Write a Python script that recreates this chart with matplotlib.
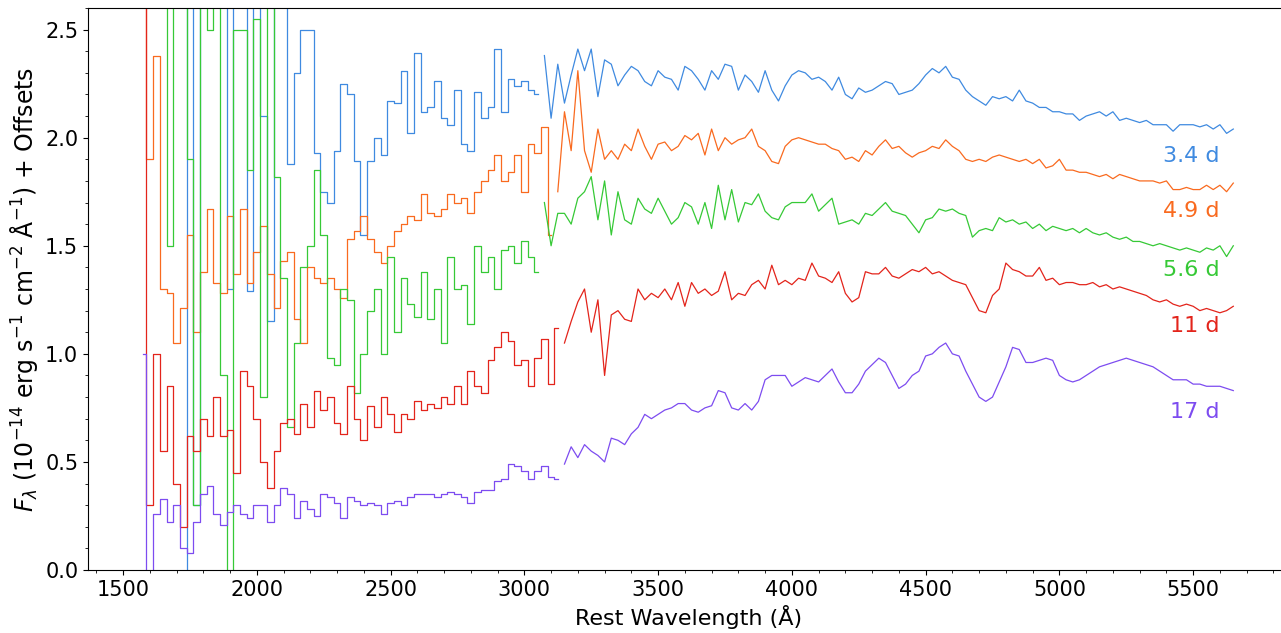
import numpy as np
import matplotlib
matplotlib.use("Agg")
import matplotlib.pyplot as plt
from matplotlib.ticker import MultipleLocator

nan = np.nan

# rest wavelength grid (Angstrom), 25 A steps from 1575 to 5650
wave = np.arange(1575, 5651, 25)

# fluxes + offsets, 8 values per row (200 A per row)
flux_34 = [
    nan, nan, nan, nan, nan, nan, -0.1, 3.0,
    0.3, 3.0, 3.0, 3.0, 3.0, 1.3, 3.0, 3.0,
    1.29, 3.0, 2.1, 1.15, 3.0, 3.0, 1.88, 2.3,
    2.5, 2.5, 1.93, 1.75, 1.7, 1.94, 2.25, 2.2,
    1.89, 1.55, 1.89, 2.0, 1.92, 2.17, 2.16, 2.31,
    2.02, 2.39, 2.12, 2.14, 2.26, 2.09, 2.06, 2.22,
    1.97, 1.94, 2.21, 2.09, 2.14, 2.41, 2.12, 2.27,
    2.24, 2.26, 2.22, 2.2, 2.38, 2.09, 2.34, 2.16,
    2.29, 2.41, 2.31, 2.41, 2.19, 2.36, 2.34, 2.24,
    2.29, 2.33, 2.31, 2.26, 2.24, 2.31, 2.28, 2.27,
    2.22, 2.33, 2.31, 2.27, 2.22, 2.31, 2.27, 2.34,
    2.33, 2.22, 2.29, 2.26, 2.21, 2.31, 2.22, 2.17,
    2.24, 2.29, 2.31, 2.3, 2.27, 2.28, 2.26, 2.22,
    2.28, 2.2, 2.18, 2.23, 2.21, 2.22, 2.24, 2.26,
    2.25, 2.2, 2.21, 2.22, 2.25, 2.29, 2.32, 2.3,
    2.33, 2.28, 2.27, 2.22, 2.19, 2.17, 2.15, 2.19,
    2.18, 2.19, 2.17, 2.22, 2.17, 2.16, 2.14, 2.14,
    2.12, 2.12, 2.11, 2.11, 2.08, 2.1, 2.11, 2.12,
    2.1, 2.12, 2.08, 2.09, 2.08, 2.07, 2.08, 2.06,
    2.06, 2.06, 2.03, 2.06, 2.06, 2.06, 2.05, 2.06,
    2.04, 2.06, 2.02, 2.04,
]

flux_49 = [
    2.8, 1.9, 2.38, 1.3, 1.28, 1.05, 1.21, 1.55,
    1.1, 1.38, 1.67, 1.33, 1.28, 1.64, 1.37, 1.67,
    1.33, 1.47, 1.59, 1.37, 1.21, 1.43, 1.47, 1.16,
    1.05, 1.4, 1.35, 1.33, 1.35, 1.3, 1.26, 1.53,
    1.57, 1.64, 1.53, 1.47, 1.42, 1.5, 1.57, 1.6,
    1.64, 1.62, 1.74, 1.65, 1.64, 1.67, 1.74, 1.7,
    1.72, 1.65, 1.75, 1.8, 1.85, 1.92, 1.8, 1.84,
    1.92, 1.75, 1.97, 1.93, 2.05, 1.55, 1.75, 2.12,
    1.94, 2.31, 1.94, 1.84, 2.04, 1.9, 1.94, 1.9,
    1.97, 1.94, 2.04, 1.96, 1.9, 1.97, 1.98, 1.94,
    1.96, 2.01, 1.99, 2.02, 1.92, 2.04, 1.94, 2.0,
    1.97, 1.99, 2.0, 2.04, 1.96, 1.94, 1.89, 1.88,
    1.96, 1.99, 2.0, 1.99, 1.98, 1.97, 1.97, 1.95,
    1.94, 1.9, 1.91, 1.89, 1.94, 1.92, 1.96, 1.99,
    1.95, 1.96, 1.93, 1.91, 1.93, 1.94, 1.96, 1.95,
    1.99, 1.96, 1.94, 1.9, 1.89, 1.9, 1.89, 1.91,
    1.92, 1.91, 1.9, 1.89, 1.9, 1.88, 1.9, 1.86,
    1.87, 1.9, 1.85, 1.85, 1.84, 1.84, 1.83, 1.82,
    1.83, 1.81, 1.83, 1.82, 1.81, 1.8, 1.8, 1.8,
    1.79, 1.8, 1.76, 1.76, 1.77, 1.76, 1.76, 1.78,
    1.76, 1.78, 1.75, 1.79,
]

flux_56 = [
    nan, nan, nan, 3.0, 1.5, 3.0, 3.0, 1.9,
    0.3, 3.0, 2.5, 3.0, 0.9, -0.2, 2.5, 2.5,
    1.85, 2.55, 0.8, 3.0, 1.82, 1.35, 0.66, 1.05,
    1.4, 1.5, 1.85, 1.55, 0.98, 0.95, 1.3, 1.25,
    0.82, 1.0, 1.2, 1.3, 1.0, 1.45, 1.1, 1.35,
    1.23, 1.17, 1.38, 1.16, 1.3, 1.05, 1.45, 1.3,
    1.32, 1.14, 1.5, 1.38, 1.45, 1.3, 1.48, 1.5,
    1.42, 1.52, 1.45, 1.38, 1.7, 1.5, 1.65, 1.65,
    1.6, 1.72, 1.75, 1.82, 1.62, 1.8, 1.55, 1.75,
    1.62, 1.6, 1.72, 1.67, 1.65, 1.72, 1.66, 1.6,
    1.63, 1.7, 1.68, 1.6, 1.7, 1.58, 1.78, 1.62,
    1.76, 1.61, 1.7, 1.69, 1.74, 1.66, 1.63, 1.62,
    1.68, 1.7, 1.7, 1.7, 1.74, 1.66, 1.69, 1.72,
    1.6, 1.61, 1.62, 1.6, 1.65, 1.64, 1.67, 1.7,
    1.66, 1.65, 1.64, 1.6, 1.56, 1.62, 1.63, 1.67,
    1.66, 1.67, 1.65, 1.64, 1.54, 1.57, 1.58, 1.57,
    1.63, 1.61, 1.62, 1.6, 1.61, 1.58, 1.6, 1.57,
    1.59, 1.58, 1.57, 1.58, 1.56, 1.58, 1.56, 1.55,
    1.56, 1.54, 1.53, 1.54, 1.52, 1.52, 1.51, 1.5,
    1.51, 1.5, 1.49, 1.48, 1.49, 1.48, 1.47, 1.49,
    1.48, 1.5, 1.45, 1.5,
]

flux_11 = [
    2.8, 0.3, 1.0, 0.55, 0.85, 0.4, 0.2, 0.62,
    0.55, 0.7, 0.62, 0.8, 0.62, 0.65, 0.45, 0.92,
    0.85, 0.7, 0.5, 0.38, 0.55, 0.68, 0.7, 0.63,
    0.77, 0.66, 0.83, 0.74, 0.8, 0.68, 0.63, 0.85,
    0.7, 0.6, 0.76, 0.66, 0.8, 0.72, 0.64, 0.72,
    0.7, 0.78, 0.74, 0.77, 0.75, 0.8, 0.77, 0.85,
    0.77, 0.92, 0.85, 0.82, 0.97, 1.03, 1.1, 1.06,
    0.95, 0.97, 0.85, 0.98, 1.07, 0.86, 1.12, 1.05,
    1.15, 1.24, 1.3, 1.1, 1.25, 0.9, 1.18, 1.2,
    1.16, 1.15, 1.3, 1.25, 1.28, 1.26, 1.3, 1.25,
    1.33, 1.22, 1.33, 1.28, 1.3, 1.27, 1.29, 1.38,
    1.25, 1.28, 1.27, 1.32, 1.34, 1.3, 1.41, 1.32,
    1.34, 1.32, 1.35, 1.34, 1.42, 1.36, 1.35, 1.33,
    1.38, 1.28, 1.24, 1.26, 1.38, 1.37, 1.37, 1.4,
    1.36, 1.35, 1.37, 1.39, 1.38, 1.4, 1.37, 1.38,
    1.36, 1.34, 1.33, 1.32, 1.26, 1.2, 1.19, 1.27,
    1.3, 1.42, 1.39, 1.38, 1.36, 1.36, 1.4, 1.34,
    1.35, 1.32, 1.33, 1.33, 1.32, 1.32, 1.33, 1.31,
    1.32, 1.3, 1.31, 1.3, 1.29, 1.28, 1.27, 1.25,
    1.24, 1.25, 1.23, 1.22, 1.23, 1.22, 1.2, 1.21,
    1.2, 1.19, 1.2, 1.22,
]

flux_17 = [
    1.0, -0.1, 0.26, 0.33, 0.22, 0.3, 0.1, 0.08,
    0.22, 0.35, 0.39, 0.26, 0.21, 0.27, 0.3, 0.26,
    0.24, 0.3, 0.3, 0.22, 0.3, 0.38, 0.35, 0.24,
    0.32, 0.28, 0.25, 0.35, 0.34, 0.31, 0.24, 0.34,
    0.32, 0.3, 0.31, 0.3, 0.26, 0.31, 0.32, 0.3,
    0.34, 0.35, 0.35, 0.35, 0.34, 0.35, 0.36, 0.35,
    0.34, 0.31, 0.36, 0.37, 0.37, 0.41, 0.42, 0.49,
    0.48, 0.46, 0.42, 0.46, 0.48, 0.43, 0.42, 0.49,
    0.57, 0.52, 0.58, 0.55, 0.53, 0.5, 0.61, 0.6,
    0.58, 0.63, 0.66, 0.72, 0.7, 0.72, 0.74, 0.75,
    0.77, 0.77, 0.74, 0.73, 0.75, 0.76, 0.83, 0.82,
    0.75, 0.74, 0.77, 0.74, 0.78, 0.88, 0.9, 0.9,
    0.9, 0.85, 0.87, 0.89, 0.88, 0.87, 0.9, 0.93,
    0.87, 0.82, 0.82, 0.86, 0.92, 0.95, 0.98, 0.96,
    0.9, 0.84, 0.86, 0.9, 0.92, 0.99, 1.0, 1.03,
    1.05, 1.0, 0.99, 0.92, 0.86, 0.8, 0.78, 0.8,
    0.87, 0.94, 1.03, 1.02, 0.96, 0.96, 0.97, 0.98,
    0.97, 0.9, 0.88, 0.87, 0.88, 0.9, 0.92, 0.94,
    0.95, 0.96, 0.97, 0.98, 0.97, 0.96, 0.95, 0.94,
    0.92, 0.9, 0.88, 0.88, 0.88, 0.86, 0.86, 0.85,
    0.85, 0.85, 0.84, 0.83,
]

epochs = ["3.4 d", "4.9 d", "5.6 d", "11 d", "17 d"]
colors = ["#3f8ae0", "#f96a1f", "#36c936", "#e3241b", "#7d4cf0"]
label_y = [1.917, 1.662, 1.388, 1.128, 0.733]
# where the UV spectrum ends and the optical one starts
join_wave = [3050, 3100, 3050, 3125, 3125]

series = [flux_34, flux_49, flux_56, flux_11, flux_17]

fig = plt.figure(figsize=(12.81, 6.33), dpi=100)
ax = fig.add_axes([88 / 1281, 63 / 633, 1202 / 1281, 562 / 633])

# UV part looks binned (steps), optical part is finer
for flux, col, name, ly, wj in zip(series, colors, epochs, label_y, join_wave):
    f = np.array(flux, dtype=float)
    uv = wave <= wj
    opt = wave > wj
    ax.plot(wave[uv], f[uv], drawstyle="steps-mid", color=col, lw=0.9)
    ax.plot(wave[opt], f[opt], color=col, lw=0.9)
    ax.text(5600, ly, name, color=col, fontsize=16, ha="right", va="center")

ax.set_xlim(1369, 5862)
ax.set_ylim(0, 2.6)
ax.xaxis.set_major_locator(MultipleLocator(500))
ax.xaxis.set_minor_locator(MultipleLocator(100))
ax.yaxis.set_major_locator(MultipleLocator(0.5))
ax.yaxis.set_minor_locator(MultipleLocator(0.1))
ax.tick_params(labelsize=15)
ax.set_xlabel("Rest Wavelength (Å)", fontsize=16)
ax.set_ylabel(r"$F_\lambda$ (10$^{-14}$ erg s$^{-1}$ cm$^{-2}$ Å$^{-1}$) + Offsets",
              fontsize=17)

fig.savefig("out.png", dpi=100)
